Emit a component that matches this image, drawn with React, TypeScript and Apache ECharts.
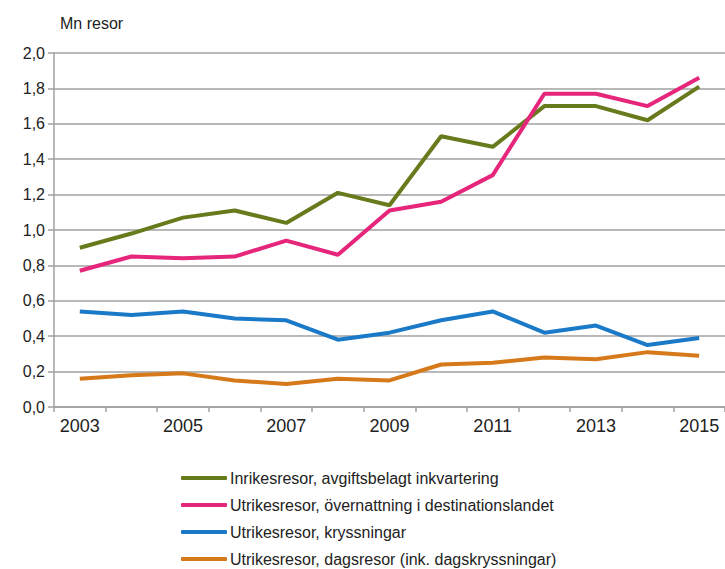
import React, { useEffect, useRef } from "react";
import * as echarts from "echarts";

const years = ["2003","2004","2005","2006","2007","2008","2009","2010","2011","2012","2013","2014","2015"];
const inrikes = [0.90, 0.98, 1.07, 1.11, 1.04, 1.21, 1.14, 1.53, 1.47, 1.70, 1.70, 1.62, 1.81];
const utrikesOvernattning = [0.77, 0.85, 0.84, 0.85, 0.94, 0.86, 1.11, 1.16, 1.31, 1.77, 1.77, 1.70, 1.86];
const kryssningar = [0.54, 0.52, 0.54, 0.50, 0.49, 0.38, 0.42, 0.49, 0.54, 0.42, 0.46, 0.35, 0.39];
const dagsresor = [0.16, 0.18, 0.19, 0.15, 0.13, 0.16, 0.15, 0.24, 0.25, 0.28, 0.27, 0.31, 0.29];

const seriesNames = [
  "Inrikesresor, avgiftsbelagt inkvartering",
  "Utrikesresor, övernattning i destinationslandet",
  "Utrikesresor, kryssningar",
  "Utrikesresor, dagsresor (ink. dagskryssningar)",
];
const colors = ["#677a1c", "#e5267b", "#1a7ac8", "#d6791a"];
const FONT = "'Liberation Sans', Arial, sans-serif";

export default function App() {
  const ref = useRef<HTMLDivElement>(null);
  useEffect(() => {
    if (!ref.current) return;
    const chart = echarts.init(ref.current, undefined, { renderer: "svg" });
    const data = [inrikes, utrikesOvernattning, kryssningar, dagsresor];
    chart.setOption({
      animation: false,
      textStyle: { fontFamily: FONT },
      title: {
        text: "Mn resor",
        left: 55,
        top: 10,
        textStyle: { fontSize: 16, fontWeight: "normal", color: "#222", fontFamily: FONT },
      },
      grid: { left: 54, right: -4, top: 53, bottom: 162, containLabel: false },
      legend: {
        orient: "vertical",
        left: 176,
        top: 465,
        height: 110,
        itemWidth: 46,
        itemHeight: 4,
        itemGap: 11,
        icon: "roundRect",
        data: seriesNames,
        textStyle: { fontSize: 16, color: "#222", fontFamily: FONT, lineHeight: 16, padding: [0, 0, 0, -2] },
      },
      xAxis: {
        type: "category",
        data: years,
        boundaryGap: true,
        axisLine: { show: true, lineStyle: { color: "#a0a0a0", width: 1.5 } },
        axisTick: { show: true, interval: 0, length: 5, lineStyle: { color: "#a0a0a0", width: 1.5 } },
        axisLabel: { interval: 1, fontSize: 18, color: "#222", margin: 10, fontFamily: FONT },
        splitLine: { show: false },
      },
      yAxis: {
        type: "value",
        min: 0,
        max: 2,
        interval: 0.2,
        axisLine: { show: true, lineStyle: { color: "#a0a0a0", width: 1.5 } },
        axisTick: { show: true, length: 6, lineStyle: { color: "#a0a0a0", width: 1.5 } },
        axisLabel: {
          fontSize: 16,
          color: "#222",
          margin: 9,
          fontFamily: FONT,
          formatter: (v: number) => v.toFixed(1).replace(".", ","),
        },
        splitLine: { show: true, lineStyle: { color: "#a0a0a0", width: 1.5 } },
      },
      series: data.map((d, i) => ({
        name: seriesNames[i],
        type: "line",
        data: d,
        symbol: "none",
        color: colors[i],
        lineStyle: { width: 4, color: colors[i] },
      })),
    });
    return () => chart.dispose();
  }, []);
  return <div ref={ref} style={{ width: 725, height: 569, position: "absolute", left: 0, top: 0 }} />;
}
